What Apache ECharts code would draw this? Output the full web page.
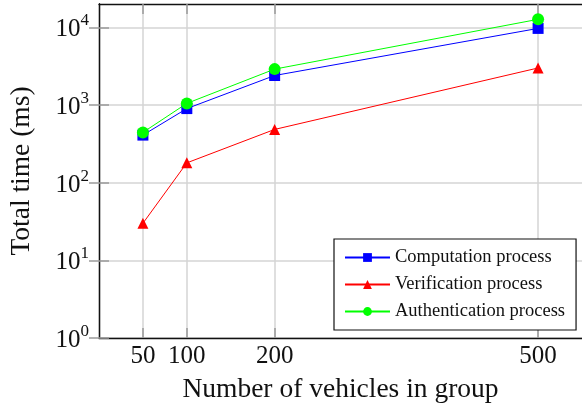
<!DOCTYPE html>
<html>
<head>
<meta charset="utf-8">
<script src="https://cdn.jsdelivr.net/npm/echarts@6/dist/echarts.min.js"></script>
<style>
html,body{margin:0;padding:0;background:#fff;}
#chart{width:582px;height:412px;}
</style>
</head>
<body>
<div id="chart"></div>
<script>
var xValues = [50, 100, 200, 500];
var xTicks = [50, 100, 200, 500];
var yTicks = [1, 10, 100, 1000, 10000];
var computation = [410, 900, 2400, 9700];
var verification = [30, 180, 485, 3000];
var authentication = [444, 1050, 2900, 12700];
var seriesNames = ['Computation process', 'Verification process', 'Authentication process'];

function pairs(vals) { return xValues.map(function (x, i) { return [x, vals[i]]; }); }

var FONT = 'Liberation Serif';
var chart = echarts.init(document.getElementById('chart'), null, {renderer: 'canvas'});

var gridLine = {show: true, lineStyle: {color: '#d4d4d4', width: 1.5}};
var tick = {show: true, inside: true, length: 10, lineStyle: {color: '#9a9a9a', width: 1.5}};
var axisLine = {show: true, lineStyle: {color: '#111', width: 1.3}};

function yFormatter(v) {
  var e = Math.round(Math.log10(v));
  if (Math.abs(Math.log10(v) - e) > 1e-6) return '';
  return '{a|10}{b|' + e + '}';
}

chart.setOption({
  animation: false,
  backgroundColor: '#fff',
  grid: {left: 99, top: 4, width: 486, bottom: 74, containLabel: false},
  xAxis: [{
    type: 'value', min: 0, max: 550, position: 'bottom',
    name: 'Number of vehicles in group', nameLocation: 'middle', nameGap: 38,
    nameTextStyle: {fontFamily: FONT, fontSize: 27.5, color: '#111'},
    axisLine: axisLine,
    axisTick: Object.assign({customValues: xTicks}, tick),
    axisLabel: {customValues: xTicks, margin: 6, fontFamily: FONT, fontSize: 25, color: '#111'},
    splitLine: gridLine
  }, {
    type: 'value', min: 0, max: 550, position: 'top',
    axisLine: axisLine,
    axisTick: Object.assign({customValues: xTicks}, tick),
    axisLabel: {show: false},
    splitLine: {show: false}
  }],
  yAxis: [{
    type: 'log', logBase: 10, min: 1, max: 20000, position: 'left',
    name: 'Total time (ms)', nameLocation: 'middle', nameGap: 63,
    nameTextStyle: {fontFamily: FONT, fontSize: 27.5, color: '#111'},
    axisLine: axisLine,
    axisTick: Object.assign({customValues: yTicks}, tick),
    axisLabel: {
      customValues: yTicks, margin: 10, formatter: yFormatter,
      rich: {
        a: {fontFamily: FONT, fontSize: 25, color: '#111', lineHeight: 30, verticalAlign: 'bottom'},
        b: {fontFamily: FONT, fontSize: 17, color: '#111', verticalAlign: 'top', lineHeight: 30}
      }
    },
    minorTick: {show: false},
    splitLine: gridLine
  }, {
    type: 'log', logBase: 10, min: 1, max: 20000, position: 'right',
    axisLine: axisLine,
    axisTick: Object.assign({customValues: yTicks}, tick),
    axisLabel: {show: false},
    splitLine: {show: false}
  }],
  legend: {
    left: 334, top: 239, orient: 'vertical',
    backgroundColor: '#fff', borderColor: '#111', borderWidth: 1.2,
    padding: [9, 11, 9, 10], itemGap: 8, itemWidth: 45, itemHeight: 11,
    textStyle: {fontFamily: FONT, fontSize: 18.5, color: '#111'},
    data: seriesNames
  },
  series: [{
    name: seriesNames[0], type: 'line', data: pairs(computation),
    symbol: 'rect', symbolSize: 11,
    lineStyle: {color: '#0000ff', width: 1}, itemStyle: {color: '#0000ff'}
  }, {
    name: seriesNames[1], type: 'line', data: pairs(verification),
    symbol: 'triangle', symbolSize: 11,
    lineStyle: {color: '#ff0000', width: 1}, itemStyle: {color: '#ff0000'}
  }, {
    name: seriesNames[2], type: 'line', data: pairs(authentication),
    symbol: 'circle', symbolSize: 12,
    lineStyle: {color: '#00ff00', width: 1}, itemStyle: {color: '#00ff00'}
  }]
});
</script>
</body>
</html>
